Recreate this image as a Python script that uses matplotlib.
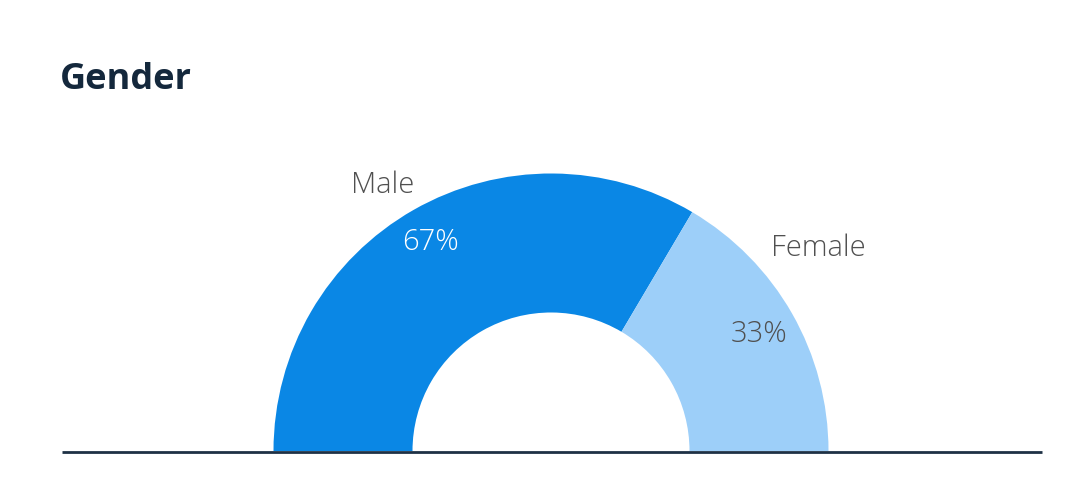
import matplotlib
matplotlib.use('Agg')
import matplotlib.pyplot as plt

plt.rcParams['font.family'] = ['Open Sans', 'DejaVu Sans']

# data
labels = ['Male', 'Female']
shares = [67, 33]
colors = ['#0a87e5', '#9dcff9']

W, H = 1068, 488
fig = plt.figure(figsize=(W / 100, H / 100), dpi=100)
ax = fig.add_axes([0, 0, 1, 1])

cx, cy = 551, H - 451
r_out, r_in = 277.5, 138.5

# half donut: extra invisible slice makes the bottom half
wedges, _ = ax.pie(shares + [sum(shares)], colors=colors + ['none'],
                   startangle=180, counterclock=False, center=(cx, cy),
                   radius=r_out, wedgeprops=dict(width=r_out - r_in, linewidth=0),
                   frame=True)
ax.set_xlim(0, W)
ax.set_ylim(0, H)
ax.set_aspect('equal')
ax.axis('off')

# baseline
ax.plot([62, 1042], [H - 452, H - 452], color='#1e3145', lw=2, solid_capstyle='butt')

# title
fig.text(60 / W, 1 - 80 / H, 'Gender', fontsize=26, fontweight='bold',
         color='#14283c', va='center', ha='left')

# labels
lab_pos = [(383, 185), (818, 248)]
pct_pos = [(430, 242), (759, 334)]
pct_col = ['white', '#505050']
for i in range(len(labels)):
    ax.text(lab_pos[i][0], H - lab_pos[i][1], labels[i], fontsize=21,
            fontweight='light', color='#505050', ha='center', va='center')
    ax.text(pct_pos[i][0], H - pct_pos[i][1], f'{shares[i]}%', fontsize=21,
            fontweight='light', color=pct_col[i], ha='center', va='center')

fig.savefig('out.png', dpi=100, facecolor='white')
